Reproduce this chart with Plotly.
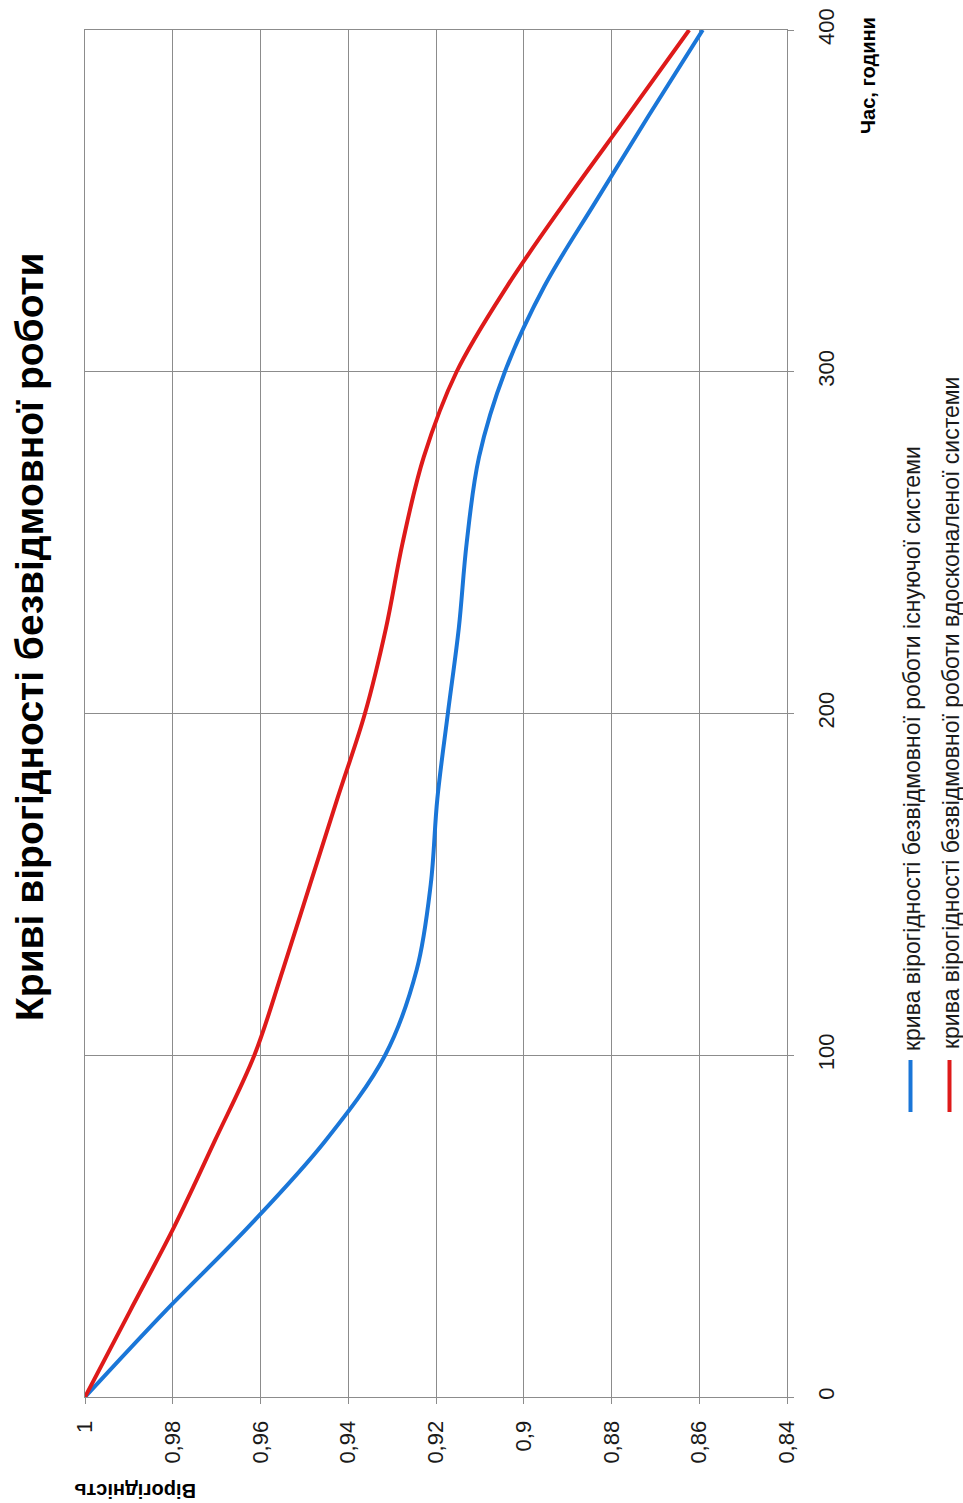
import plotly.graph_objects as go

# Час роботи, години
hours = [0, 25, 50, 75, 100, 125, 150, 175, 200, 225, 250, 275, 300, 325, 350, 375, 400]

# Вірогідність безвідмовної роботи існуючої системи
p_existing = [1.0, 0.9818, 0.9626, 0.9452, 0.9316, 0.9244, 0.9212, 0.9197, 0.9173,
              0.9148, 0.9130, 0.9102, 0.9043, 0.8953, 0.8835, 0.8715, 0.8592]

# Вірогідність безвідмовної роботи вдосконаленої системи
p_improved = [1.0, 0.9898, 0.9796, 0.9704, 0.9614, 0.9549, 0.9487, 0.9425, 0.9362,
              0.9314, 0.9276, 0.9228, 0.9153, 0.9038, 0.8904, 0.8763, 0.8623]

series_names = [
    "крива вірогідності безвідмовної роботи існуючої системи",
    "крива вірогідності безвідмовної роботи вдосконаленої системи",
]
series_colors = ["#1a76d8", "#de1a1a"]

prob_ticks = [1.0, 0.98, 0.96, 0.94, 0.92, 0.90, 0.88, 0.86, 0.84]
prob_labels = ["1", "0,98", "0,96", "0,94", "0,92", "0,9", "0,88", "0,86", "0,84"]
hour_ticks = [0, 100, 200, 300, 400]
hour_labels = ["0", "100", "200", "300", "400"]

title_text = "Криві вірогідності безвідмовної роботи"
prob_title = "Вірогідність"
hour_title = "Час, години"

W, H = 963, 1503
L, R, T, B = 85, 176, 30, 106
plot_w = W - L - R
plot_h = H - T - B


def px_x(px):
    return (px - L) / plot_w


def px_y(py):
    return (H - B - py) / plot_h


FONT = "Liberation Sans"
TEXT = "#1a1a1a"
GRID = "#8c8c8c"

fig = go.Figure()
for vals, name, col in zip([p_existing, p_improved], series_names, series_colors):
    fig.add_trace(go.Scatter(
        x=vals, y=hours, mode="lines", name=name,
        line=dict(color=col, width=4, shape="spline", smoothing=1.0),
        showlegend=False,
    ))

fig.update_layout(
    width=W, height=H,
    margin=dict(l=L, r=R, t=T, b=B, pad=0),
    paper_bgcolor="white", plot_bgcolor="white",
    font=dict(family=FONT, color=TEXT, size=22),
    xaxis=dict(
        range=[1.0, 0.84], tickvals=prob_ticks, ticktext=prob_labels,
        tickangle=-90, ticks="outside", ticklen=6, tickcolor=GRID,
        showgrid=True, gridcolor=GRID, gridwidth=1,
        showline=True, linecolor=GRID, linewidth=1, mirror=True,
        zeroline=False, ticklabelstandoff=8, automargin=False,
        tickfont=dict(size=22, color=TEXT),
    ),
    yaxis=dict(
        range=[0, 400], tickvals=hour_ticks, ticktext=hour_labels,
        side="right", tickangle=-90, ticks="outside", ticklen=6, tickcolor=GRID,
        showgrid=True, gridcolor=GRID, gridwidth=1,
        showline=True, linecolor=GRID, linewidth=1, mirror=True,
        zeroline=False, ticklabelstandoff=14, automargin=False,
        tickfont=dict(size=22, color=TEXT),
    ),
)

annotations = [
    dict(text="<b>" + title_text + "</b>", x=px_x(29), y=px_y(637), textangle=-90,
         font=dict(size=39, color="#000000")),
    dict(text="<b>" + prob_title + "</b>", x=px_x(135), y=px_y(1491), textangle=180,
         font=dict(size=20, color="#000000")),
    dict(text="<b>" + hour_title + "</b>", x=px_x(868), y=px_y(76), textangle=-90,
         font=dict(size=20, color="#000000")),
    dict(text=series_names[0], x=px_x(912), y=px_y(749), textangle=-90,
         font=dict(size=23, color=TEXT)),
    dict(text=series_names[1], x=px_x(951), y=px_y(713), textangle=-90,
         font=dict(size=23, color=TEXT)),
]
for a in annotations:
    a.update(xref="paper", yref="paper", showarrow=False, xanchor="center", yanchor="middle")
fig.update_layout(annotations=annotations)

# legend swatches
for xc, col in zip([910.5, 949.5], series_colors):
    fig.add_shape(type="line", xref="paper", yref="paper",
                  x0=px_x(xc), x1=px_x(xc), y0=px_y(1112), y1=px_y(1060),
                  line=dict(color=col, width=4))

fig.write_html("out.html")
